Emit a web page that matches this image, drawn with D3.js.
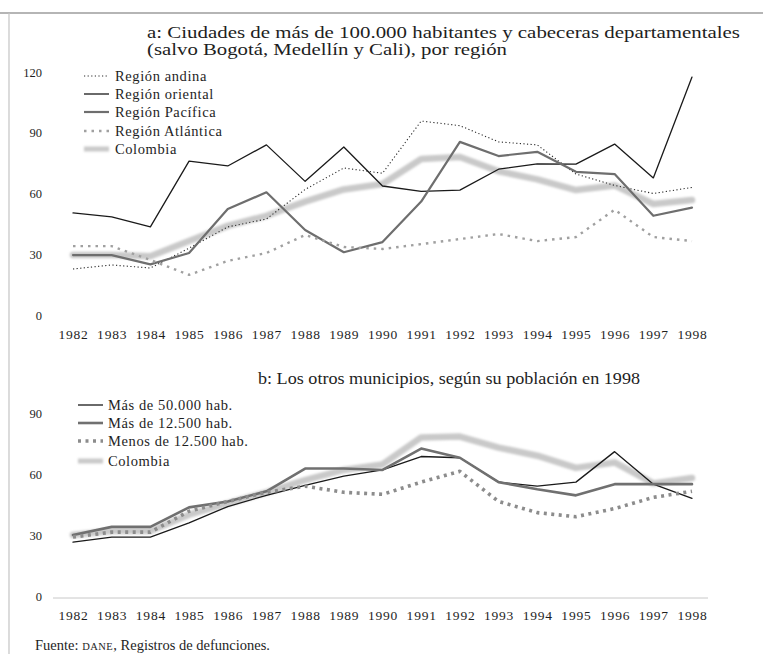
<!DOCTYPE html>
<html>
<head>
<meta charset="utf-8">
<script src="https://cdn.jsdelivr.net/npm/d3@7"></script>
<style>
  body { margin: 0; background: #fff; }
  svg { display: block; }
  text { font-family: "Liberation Serif", "DejaVu Serif", serif; fill: #1e1e1e; }
</style>
</head>
<body>
<svg id="chart" width="763" height="654"></svg>
<script>
// Years on the horizontal axis
const years = [1982, 1983, 1984, 1985, 1986, 1987, 1988, 1989, 1990,
               1991, 1992, 1993, 1994, 1995, 1996, 1997, 1998];

// Panel a: cities over 100,000 inhabitants and departmental capitals, by region
const andina    = [22.7, 24.7, 23.2, 33, 43.5, 47.4, 62, 72.6, 70, 95.8, 93.5, 85.5, 84, 69.6, 64, 60, 63];
const oriental  = [50.4, 48.5, 43.5, 76, 73.6, 84, 66, 83, 63.7, 61, 61.7, 72, 74.6, 74.5, 84.4, 67.7, 117.5];
const pacifica  = [29.6, 29.6, 25, 30.6, 52.3, 60.6, 42, 31, 36, 56, 85.5, 78.5, 80.6, 70.7, 69.6, 49, 53];
const atlantica = [34, 34, 27.2, 19.8, 26.7, 30.6, 39.5, 33.6, 32.6, 35, 37.5, 40, 36.5, 38.5, 52, 38.5, 36.5];
const colombiaA = [29.6, 29.6, 29, 36.5, 44, 49, 56, 62, 64.7, 77, 78, 71, 67, 61.7, 64, 54.8, 56.8];

// Panel b: other municipalities, by 1998 population
const mas50    = [26.5, 29, 29, 36, 44, 49.5, 54.4, 59, 62, 68.6, 68, 56, 54, 56, 71, 55, 48];
const mas12    = [30, 34, 34, 43.6, 46.5, 51.5, 62.7, 62.7, 62, 72.5, 68, 56, 52.5, 49.5, 55, 55, 55];
const menos12  = [29, 31.4, 31.4, 41.7, 46.5, 51, 54, 51, 50, 56, 61.3, 46.5, 41, 39, 43, 48.5, 51.5];
const colombiaB = [30, 32, 32, 40, 45.6, 51, 57, 62, 64.7, 78, 78.4, 73, 69, 63, 65.7, 55.4, 58];

// Tick values
const ticksA = [0, 30, 60, 90, 120];
const ticksB = [0, 30, 60, 90];

// Series labels
const labelsA = ["Región andina", "Región oriental", "Región Pacífica", "Región Atlántica", "Colombia"];
const labelsB = ["Más de 50.000 hab.", "Más de 12.500 hab.", "Menos de 12.500 hab.", "Colombia"];

const titleA1 = "a: Ciudades de más de 100.000 habitantes y cabeceras departamentales";
const titleA2 = "(salvo Bogotá, Medellín y Cali), por región";
const titleB  = "b: Los otros municipios, según su población en 1998";

// Line styles
const styleColombia = { stroke: "#c9c9c9", width: 6.5, dash: null, blur: true };
const stylesA = [
  { stroke: "#2a2a2a", width: 1.1, dash: "1.2,2.4" },
  { stroke: "#1a1a1a", width: 1.3, dash: null },
  { stroke: "#6e6e6e", width: 2.2, dash: null },
  { stroke: "#a0a0a0", width: 2.4, dash: "2.5,5" },
  styleColombia
];
const stylesB = [
  { stroke: "#1a1a1a", width: 1.3, dash: null },
  { stroke: "#707070", width: 2.6, dash: null },
  { stroke: "#8c8c8c", width: 3.6, dash: "3,4.5" },
  styleColombia
];

const svg = d3.select("#chart");

// soft edge for the Colombia reference line (user-space region so flat lines keep it)
svg.append("defs").append("filter").attr("id", "soft")
  .attr("filterUnits", "userSpaceOnUse")
  .attr("x", 0).attr("y", 0).attr("width", 763).attr("height", 654)
  .append("feGaussianBlur").attr("stdDeviation", 0.9);

// Page frame
svg.append("line").attr("x1", 0).attr("x2", 763).attr("y1", 13).attr("y2", 13)
  .attr("stroke", "#9d9d9d").attr("stroke-width", 1.5);
svg.append("line").attr("x1", 9).attr("x2", 9).attr("y1", 13).attr("y2", 654)
  .attr("stroke", "#c4c4c4").attr("stroke-width", 1.2);

const x = d3.scalePoint().domain(years).range([73, 692]);

function drawSeries(g, y, seriesList, styles) {
  const line = d3.line().x((d, i) => x(years[i])).y(d => y(d));
  // Colombia is drawn first, underneath the other series
  const order = seriesList.map((s, i) => i);
  order.sort((a, b) => (styles[b] === styleColombia) - (styles[a] === styleColombia));
  order.forEach(i => {
    const st = styles[i];
    g.append("path")
      .datum(seriesList[i])
      .attr("d", line)
      .attr("fill", "none")
      .attr("stroke", st.stroke)
      .attr("stroke-width", st.width)
      .attr("stroke-dasharray", st.dash)
      .attr("stroke-linejoin", "round")
      .attr("stroke-linecap", st.dash ? "butt" : "round")
      .attr("filter", st.blur ? "url(#soft)" : null);
  });
}

function drawLegend(g, labels, styles, x0, x1, tx, rows, fs) {
  labels.forEach((lab, i) => {
    const st = styles[i];
    g.append("line")
      .attr("x1", x0).attr("x2", x1).attr("y1", rows[i]).attr("y2", rows[i])
      .attr("stroke", st.stroke)
      .attr("stroke-width", Math.min(st.width, 5))
      .attr("stroke-dasharray", st.dash)
      .attr("filter", st.blur ? "url(#soft)" : null);
    g.append("text")
      .attr("x", tx).attr("y", rows[i]).attr("dy", "0.35em")
      .style("font-size", fs + "px").style("letter-spacing", "0.6px")
      .text(lab);
  });
}

function styleAxisText(sel, fs) {
  sel.selectAll("text").style("font-size", fs + "px")
    .style("font-family", '"Liberation Serif", serif').attr("fill", "#1e1e1e");
}

// ---------- Panel a ----------
const gA = svg.append("g");
const yA = d3.scaleLinear().domain([0, 120]).range([315, 72]);

gA.append("text").attr("x", 147).attr("y", 38)
  .attr("textLength", 593).attr("lengthAdjust", "spacingAndGlyphs")
  .style("font-size", "16px").text(titleA1);
gA.append("text").attr("x", 147).attr("y", 55)
  .attr("textLength", 360).attr("lengthAdjust", "spacingAndGlyphs")
  .style("font-size", "16px").text(titleA2);

const axYA = gA.append("g").attr("transform", `translate(${x(years[0])},0)`)
  .call(d3.axisLeft(yA).tickValues(ticksA).tickSize(0).tickPadding(31));
axYA.select(".domain").remove();
styleAxisText(axYA, 12.5);

const axXA = gA.append("g").attr("transform", `translate(0,${yA(0)})`)
  .call(d3.axisBottom(x).tickSize(0).tickPadding(14));
axXA.select(".domain").remove();
styleAxisText(axXA, 13.5);
axXA.selectAll("text").style("letter-spacing", "0.8px");

drawSeries(gA, yA, [andina, oriental, pacifica, atlantica, colombiaA], stylesA);
drawLegend(gA, labelsA, stylesA, 84, 109, 115, [76, 94, 112, 131, 149], 14.5);

// ---------- Panel b ----------
const gB = svg.append("g");
const yB = d3.scaleLinear().domain([0, 90]).range([596, 413]);

gB.append("text").attr("x", 258).attr("y", 384)
  .attr("textLength", 382).attr("lengthAdjust", "spacingAndGlyphs")
  .style("font-size", "17px").text(titleB);

const axYB = gB.append("g").attr("transform", `translate(${x(years[0])},0)`)
  .call(d3.axisLeft(yB).tickValues(ticksB).tickSize(0).tickPadding(31));
axYB.select(".domain").remove();
styleAxisText(axYB, 12.5);

// baseline of panel b
gB.append("line")
  .attr("x1", x(years[0]) - 20).attr("x2", x(years[years.length - 1]) + 16)
  .attr("y1", yB(0) + 2).attr("y2", yB(0) + 2)
  .attr("stroke", "#c8c8c8").attr("stroke-width", 1);

const axXB = gB.append("g").attr("transform", `translate(0,${yB(0)})`)
  .call(d3.axisBottom(x).tickSize(0).tickPadding(14));
axXB.select(".domain").remove();
styleAxisText(axXB, 13.5);
axXB.selectAll("text").style("letter-spacing", "0.8px");

drawSeries(gB, yB, [mas50, mas12, menos12, colombiaB], stylesB);
drawLegend(gB, labelsB, stylesB, 78, 103, 108, [405, 423, 441, 461], 14.5);

// Source note
const src = svg.append("text").attr("x", 35).attr("y", 650).style("font-size", "14.5px");
src.append("tspan").text("Fuente: ");
src.append("tspan").style("font-size", "10.5px").style("letter-spacing", "0.5px").text("DANE");
src.append("tspan").text(", Registros de defunciones.");
</script>
</body>
</html>
